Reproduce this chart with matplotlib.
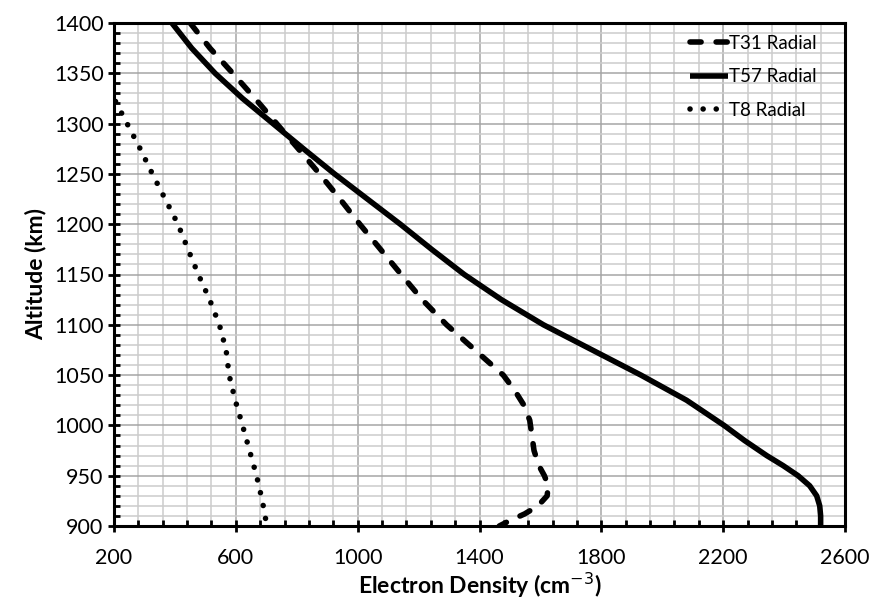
import matplotlib
matplotlib.use("Agg")
import matplotlib.pyplot as plt
from matplotlib.ticker import MultipleLocator

plt.rcParams['font.family'] = ['Lato', 'DejaVu Sans']

# T31 Radial (dashed)
t31_alt = [1400, 1375, 1350, 1325, 1300, 1275, 1250, 1225, 1200, 1175, 1150, 1125,
           1100, 1075, 1050, 1035, 1020, 1005, 990, 975, 960, 950, 940, 930, 920, 912, 905, 900]
t31_den = [450, 515, 590, 663, 734, 805, 875, 942, 1007, 1075, 1143, 1212,
           1292, 1385, 1478, 1515, 1546, 1565, 1572, 1579, 1595, 1613, 1626, 1622, 1592, 1548, 1497, 1465]

# T57 Radial (solid)
t57_alt = [1400, 1375, 1350, 1325, 1300, 1275, 1250, 1225, 1200, 1175, 1150, 1125,
           1100, 1075, 1050, 1025, 1000, 985, 970, 960, 950, 940, 930, 920, 910, 900]
t57_den = [390, 455, 532, 622, 722, 822, 924, 1032, 1140, 1243, 1350, 1472,
           1610, 1770, 1930, 2080, 2203, 2270, 2343, 2397, 2446, 2484, 2507, 2517, 2520, 2520]

# T8 Radial (dotted)
t8_alt = [1322, 1300, 1275, 1250, 1225, 1200, 1175, 1150, 1125, 1100, 1075, 1050,
          1025, 1000, 975, 950, 925, 900]
t8_den = [205, 243, 286, 326, 368, 410, 443, 477, 514, 546, 568, 578,
          598, 622, 645, 668, 687, 702]

labels = ['T31 Radial', 'T57 Radial', 'T8 Radial']
x_ticks = [200, 600, 1000, 1400, 1800, 2200, 2600]
y_ticks = [900, 950, 1000, 1050, 1100, 1150, 1200, 1250, 1300, 1350, 1400]
x_label = 'Electron Density (cm$^{-3}$)'
y_label = 'Altitude (km)'

fig = plt.figure(figsize=(8.71, 6.01), dpi=100)
W, H = 871, 601
ax = fig.add_axes([114 / W, 1 - 526 / H, (845 - 114) / W, (526 - 23) / H])

lw = 4.0
ax.plot(t31_den, t31_alt, color='black', lw=lw, linestyle=(0, (2.0, 2.7)),
        dash_capstyle='round', solid_capstyle='round', label=labels[0], zorder=3)
ax.plot(t57_den, t57_alt, color='black', lw=lw, linestyle='-',
        solid_capstyle='butt', solid_joinstyle='round', label=labels[1], zorder=3)
ax.plot(t8_den, t8_alt, color='black', lw=lw, linestyle=(0, (0.01, 2.35)),
        dash_capstyle='round', label=labels[2], zorder=3)

ax.set_xlim(x_ticks[0], x_ticks[-1])
ax.set_ylim(y_ticks[0], y_ticks[-1])
ax.set_xticks(x_ticks)
ax.set_xticks(list(range(x_ticks[0], x_ticks[-1] + 1, 80)), minor=True)
ax.set_yticks(y_ticks)
ax.yaxis.set_minor_locator(MultipleLocator(10))

ax.grid(which='minor', color='#cccccc', lw=1.1, zorder=0)
ax.grid(which='major', color='#a5a5a5', lw=1.1, zorder=0)
ax.set_axisbelow(True)

for s in ax.spines.values():
    s.set_linewidth(2.2)
    s.set_color('black')

ax.tick_params(which='major', direction='inout', length=9, width=2.0,
               labelsize=15.5, color='black')
ax.tick_params(axis='x', which='major', pad=11)
ax.tick_params(axis='y', which='major', pad=3)
ax.tick_params(which='minor', direction='in', length=4, width=2.0, color='black')

ax.set_xlabel(x_label, fontsize=16.5, fontweight='bold', labelpad=2)
ax.set_ylabel(y_label, fontsize=16.5, fontweight='bold', labelpad=5)

leg = ax.legend(loc='upper left', bbox_to_anchor=(690 / W, 1 - 35 / H),
                bbox_transform=fig.transFigure, frameon=False, fontsize=13.5,
                handlelength=2.0, handletextpad=0.1, labelspacing=0.88,
                borderpad=0, borderaxespad=0)

fig.savefig('out.png', dpi=100)
